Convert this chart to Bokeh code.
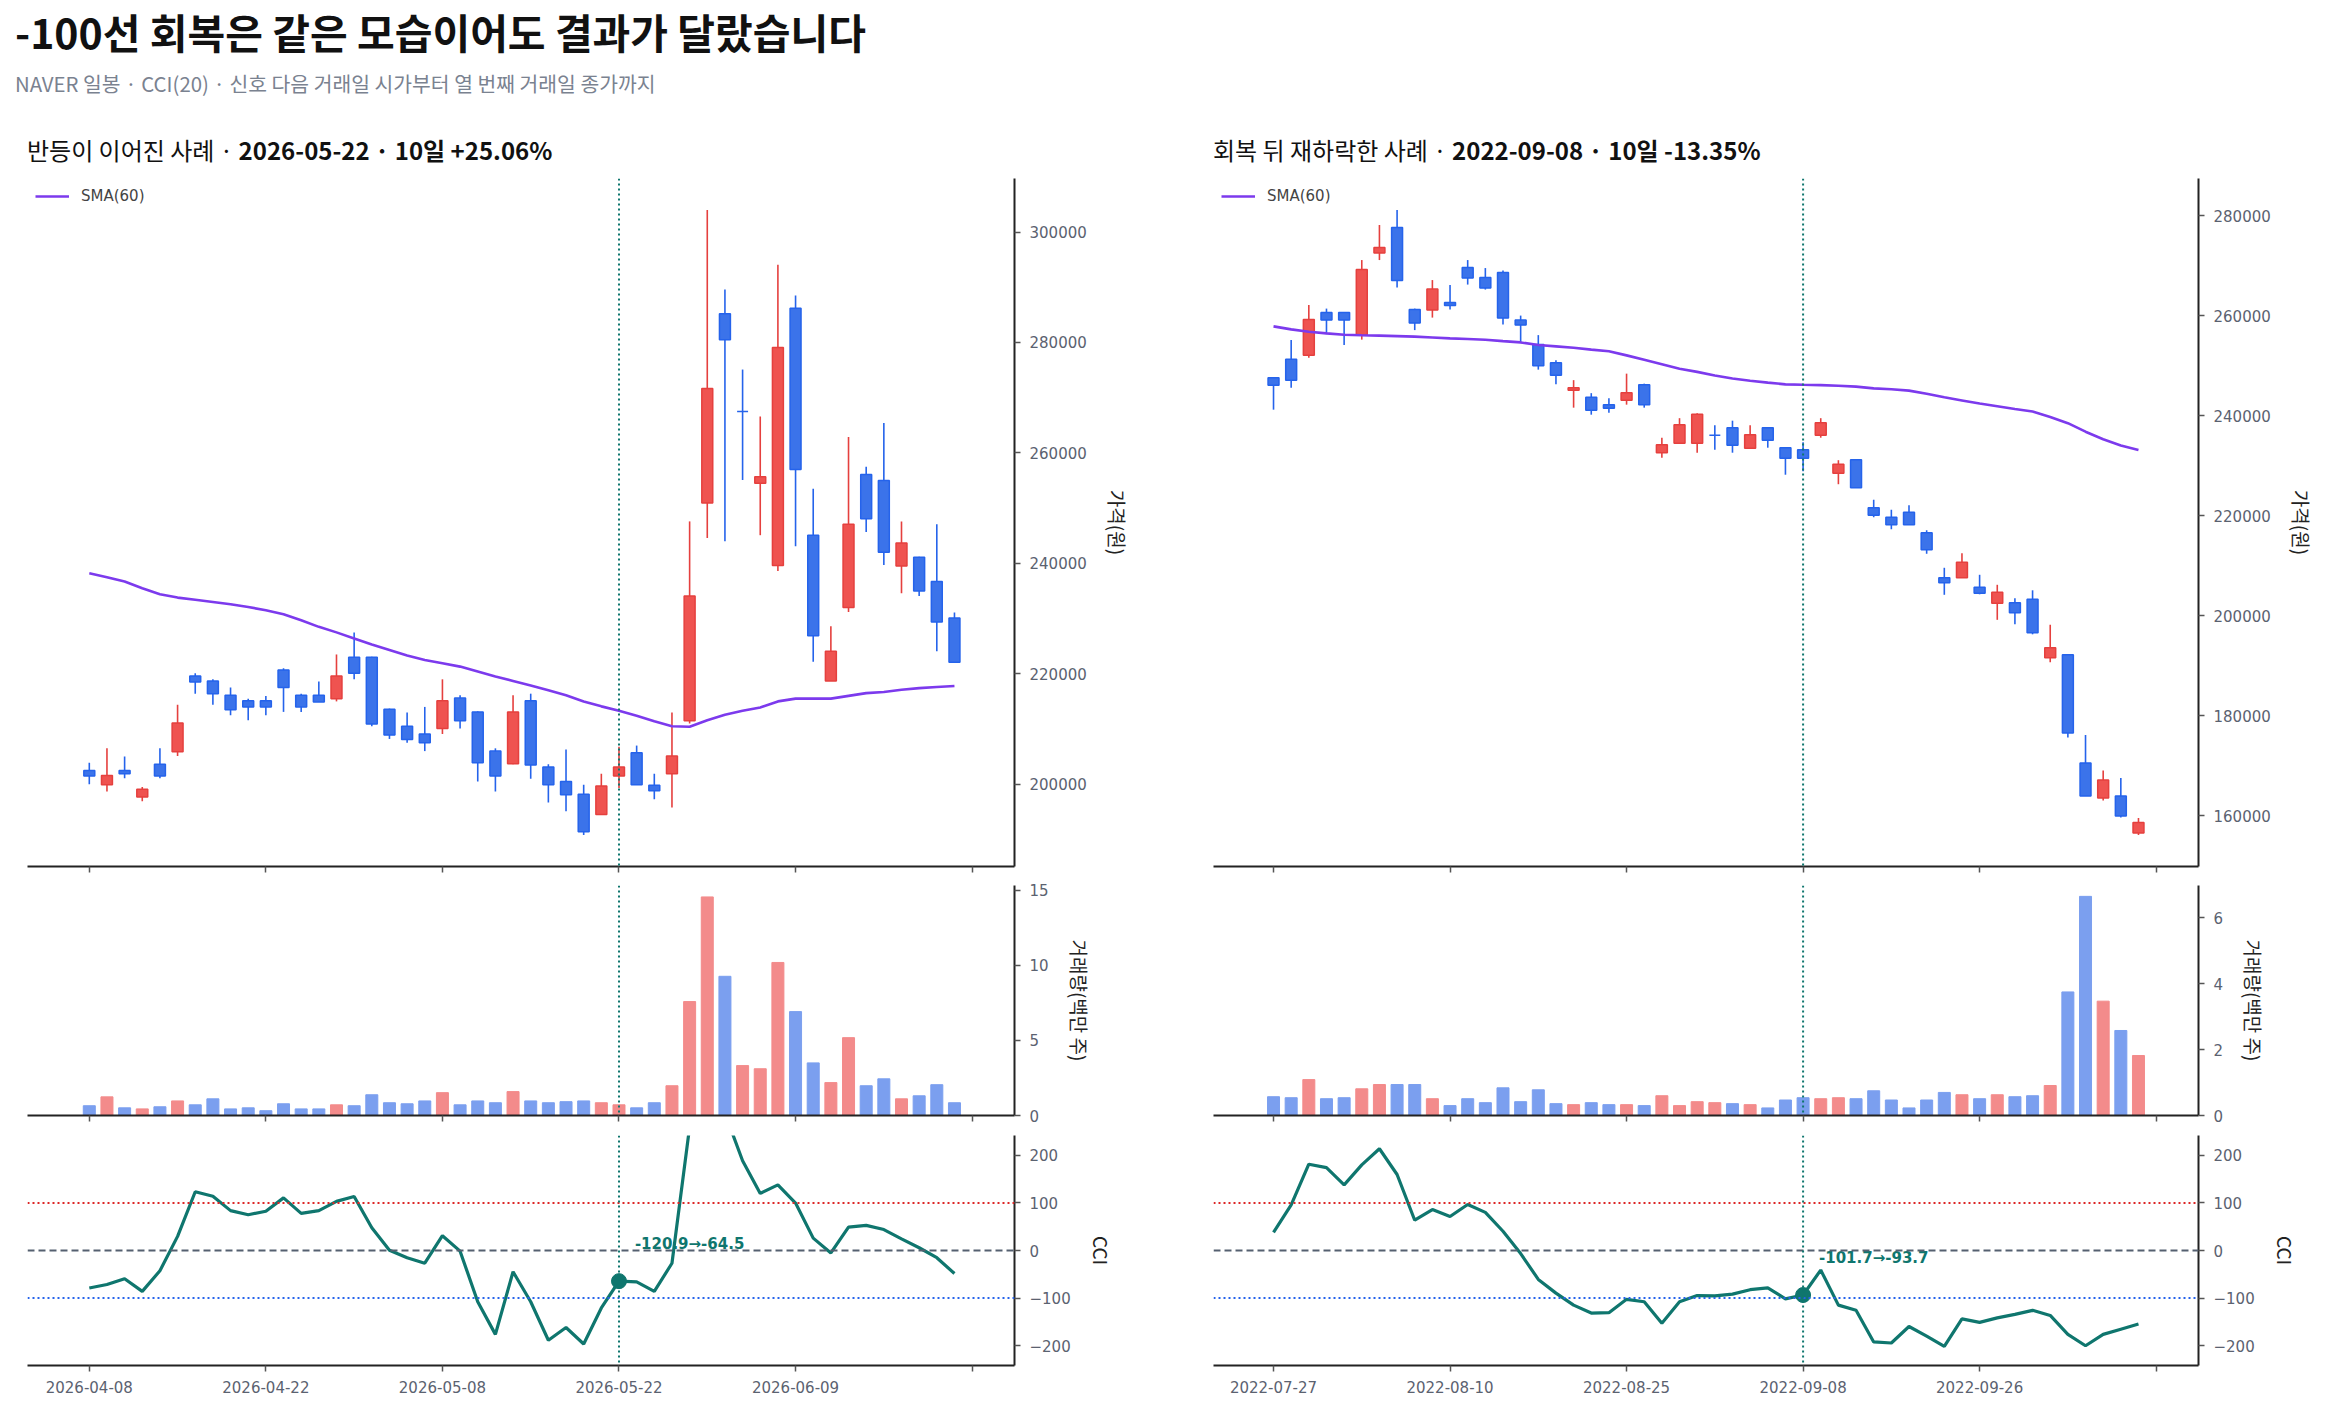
from bokeh.plotting import figure
from bokeh.models import Range1d, FixedTicker, Span, Div, NumeralTickFormatter
from bokeh.core.properties import value
from bokeh.layouts import column, row
from bokeh.embed import file_html
from bokeh.resources import INLINE

FONT = "Noto Sans CJK KR"
TICK_FONT = "DejaVu Sans"

# ---- case 1: rebound continued (NAVER, signal 2026-05-22)
up_ticks = ["2026-04-08", "2026-04-22", "2026-05-08", "2026-05-22", "2026-06-09", ""]
up_open = [202500, 199900, 202500, 197700, 203600, 205900, 219600, 218700, 216100, 215100,
           215100, 220700, 216100, 216100, 215500, 223000, 223000, 213600, 210500, 209100,
           210100, 215600, 213100, 206000, 203700, 215100, 203100, 200500, 198200, 194500,
           201500, 205700, 199800, 201900, 211500, 250950, 285200, 267500, 254500, 239600,
           286200, 245100, 218700, 232000, 256100, 255000, 239500, 241100, 236700, 230100]
up_high = [203900, 206500, 205000, 199500, 206500, 214400, 220100, 219000, 217500, 215500,
           216000, 221000, 216400, 218600, 223500, 227500, 223100, 213700, 213000, 214000,
           219000, 216100, 213200, 206500, 216100, 216400, 203600, 206300, 199900, 201900,
           206800, 207000, 201900, 213000, 247600, 304000, 289600, 275100, 266600, 294100,
           288500, 253500, 228600, 262900, 257500, 265400, 247600, 241200, 247100, 231100]
up_low = [200000, 198700, 201100, 196900, 201100, 205100, 216400, 214400, 212500, 211600,
          212500, 213100, 213100, 214900, 215000, 219000, 210500, 208200, 207500, 206000,
          209100, 210100, 200500, 198700, 203600, 201000, 196700, 195100, 190800, 194500,
          199300, 199900, 197300, 195800, 211000, 244600, 244000, 255100, 245100, 238600,
          243100, 222200, 218700, 231200, 245700, 239700, 234600, 234100, 224100, 222100]
up_close = [201500, 201600, 201900, 199100, 201500, 211100, 218500, 216400, 213500, 214000,
            214000, 217500, 214000, 214900, 219600, 220100, 210900, 208900, 208100, 207500,
            215100, 211500, 203900, 201500, 213100, 203500, 199900, 198100, 191400, 199700,
            203100, 199900, 198800, 205100, 234100, 271650, 280500, 267500, 255700, 279100,
            257000, 226900, 224100, 247100, 248100, 242000, 243700, 235000, 229400, 222100]
up_sma = [238200, 237500, 236700, 235500, 234400, 233800, 233400, 233000, 232600, 232100,
          231500, 230800, 229700, 228500, 227500, 226400, 225300, 224300, 223300, 222500,
          221900, 221300, 220400, 219500, 218700, 217900, 217000, 216100, 215000, 214100,
          213300, 212400, 211400, 210500, 210400, 211600, 212600, 213300, 213900, 215000,
          215500, 215500, 215500, 216000, 216500, 216700, 217100, 217400, 217600, 217800]
up_volume = [0.65, 1.24, 0.51, 0.44, 0.58, 0.97, 0.71, 1.11, 0.44, 0.51,
             0.32, 0.78, 0.44, 0.44, 0.71, 0.65, 1.38, 0.85, 0.78, 0.97,
             1.52, 0.71, 0.97, 0.85, 1.59, 0.97, 0.85, 0.92, 0.97, 0.85,
             0.71, 0.51, 0.85, 1.98, 7.58, 14.54, 9.26, 3.32, 3.11, 10.18,
             6.91, 3.50, 2.19, 5.18, 1.98, 2.44, 1.11, 1.31, 2.05, 0.85]
up_cci = [-78.8, -71.6, -59.3, -86.1, -42.7, 29.7, 123.7, 114.3, 83.9, 75.2,
          82.5, 110.7, 78.1, 83.9, 103.4, 113.6, 47.7, 0.7, -15.2, -26.8,
          31.1, -1.4, -107.8, -176.5, -44.8, -107.8, -188.8, -162.0, -196.7, -120.9,
          -64.5, -66.0, -86.1, -26.8, 260.0, 330.0, 289.0, 188.8, 120.1, 138.2,
          99.8, 26.0, -5.1, 49.2, 52.8, 44.1, 24.6, 5.8, -15.2, -48.5]

# ---- case 2: recovered then fell again (NAVER, signal 2022-09-08)
down_ticks = ["2022-07-27", "2022-08-10", "2022-08-25", "2022-09-08", "2022-09-26", ""]
down_open = [247600, 251300, 252100, 260600, 260600, 256100, 272500, 277600, 261200, 261100,
             262600, 269600, 267600, 268600, 259100, 254200, 250600, 245100, 243700, 242200,
             243100, 246200, 232600, 234500, 234500, 236100, 237600, 233500, 237600, 233600,
             233200, 236100, 228500, 231200, 221600, 219700, 220700, 216600, 207600, 207600,
             205700, 202500, 202600, 203300, 191600, 192200, 170600, 163600, 164000, 156600]
down_high = [247600, 255100, 262100, 261400, 260600, 271100, 278100, 281100, 261400, 267100,
             266100, 271100, 269500, 269000, 260000, 256100, 251100, 247100, 244500, 243500,
             248400, 246400, 235600, 239500, 240500, 238100, 239000, 238100, 237600, 233600,
             234700, 239500, 231100, 231200, 223200, 221200, 222100, 217100, 209600, 212500,
             208200, 206200, 203500, 205100, 198200, 192200, 176200, 169100, 167600, 159600]
down_low = [241200, 245600, 251600, 256300, 254100, 255200, 271100, 265600, 257100, 259600,
            261200, 266200, 265200, 258200, 254700, 249200, 246300, 241600, 240200, 240600,
            242200, 241600, 231600, 234500, 232600, 233200, 232600, 233500, 233600, 228200,
            228900, 235600, 226300, 225600, 219700, 217300, 218200, 212400, 204200, 207600,
            204300, 199200, 198300, 196300, 190700, 175700, 164000, 163100, 159700, 156200]
down_close = [246100, 247100, 259200, 259100, 259100, 269200, 273600, 267000, 258500, 265300,
              262000, 267500, 265500, 259500, 258100, 250000, 248100, 245600, 241100, 241500,
              244600, 242200, 234200, 238200, 240300, 236100, 234100, 236200, 235100, 231500,
              231500, 238600, 230300, 225600, 220100, 218200, 218200, 213200, 206600, 210700,
              204500, 204700, 200600, 196600, 193600, 176600, 164000, 167200, 160000, 158700]
down_sma = [257850, 257250, 256780, 256450, 256160, 256070, 256000, 255900, 255800, 255620,
            255440, 255310, 255180, 254900, 254640, 254110, 253850, 253570, 253200, 252860,
            252050, 251160, 250270, 249380, 248750, 248040, 247420, 246970, 246610, 246260,
            246170, 246100, 245990, 245810, 245450, 245280, 245010, 244380, 243670, 243050,
            242420, 241890, 241350, 240820, 239750, 238500, 236800, 235280, 234040, 233140]
down_volume = [0.57, 0.54, 1.09, 0.51, 0.54, 0.81, 0.94, 0.94, 0.94, 0.51,
               0.30, 0.51, 0.39, 0.84, 0.42, 0.78, 0.36, 0.33, 0.39, 0.33,
               0.33, 0.30, 0.60, 0.30, 0.42, 0.39, 0.36, 0.33, 0.23, 0.47,
               0.54, 0.51, 0.54, 0.51, 0.75, 0.47, 0.23, 0.47, 0.70, 0.63,
               0.51, 0.63, 0.57, 0.60, 0.91, 3.75, 6.65, 3.47, 2.58, 1.82]
down_cci = [38.3, 96.2, 181.6, 174.3, 138.2, 180.1, 214.1, 159.9, 63.7, 86.1,
            71.6, 96.9, 80.3, 40.5, -6.5, -60.8, -89.7, -115.0, -131.6, -130.9,
            -102.7, -107.8, -153.3, -107.8, -94.8, -95.5, -91.9, -82.5, -78.8, -101.7,
            -93.7, -41.2, -115.0, -125.9, -192.4, -194.6, -159.9, -180.1, -201.8, -143.9,
            -151.2, -141.8, -134.5, -125.9, -136.7, -176.5, -200.4, -176.5, -165.6, -154.8]

SIGNAL = 30

RED, RED_EDGE = "#ef5350", "#e5403e"
BLUE, BLUE_EDGE = "#3b73ea", "#2563eb"
VOL_RED, VOL_BLUE = "#f38b8b", "#7b9fef"
TEAL = "#0f766e"
TICK_COLOR = "#5b6270"


def style_axes(p, show_x_labels):
    p.toolbar_location = None
    p.outline_line_color = None
    p.grid.grid_line_color = None
    for ax in p.xaxis + p.yaxis:
        ax.axis_line_color = "#222222"
        ax.axis_line_width = 2
        ax.major_tick_line_color = "#555555"
        ax.major_tick_line_width = 1.5
        ax.major_tick_out = 6
        ax.major_tick_in = 0
        ax.minor_tick_line_color = None
        ax.major_label_text_font = TICK_FONT
        ax.major_label_text_font_size = "15px"
        ax.major_label_text_color = TICK_COLOR
        ax.major_label_standoff = 9
        ax.axis_label_text_font = FONT
        ax.axis_label_text_font_size = "19px"
        ax.axis_label_text_font_style = "normal"
        ax.axis_label_text_color = "#222222"
        ax.axis_label_standoff = 14
    if not show_x_labels:
        p.xaxis.major_label_text_color = None
        p.xaxis.major_label_text_font_size = "1px"
        p.xaxis.major_label_standoff = 0


def signal_line(p):
    p.add_layout(Span(location=SIGNAL, dimension="height", line_color=TEAL,
                      line_dash="2 3", line_width=2))


def case_column(opens, highs, lows, closes, sma, volume, cci, ticks,
                yrange, yticks, vrange, vticks, xr, left_b, right_b, width, title_html):
    idx = list(range(len(opens)))
    xr = Range1d(*xr)
    xt = FixedTicker(ticks=[0, 10, 20, 30, 40, 50])
    overrides = {i * 10: t for i, t in enumerate(ticks)}

    # price
    p = figure(width=width, height=708, x_range=xr, y_range=Range1d(*yrange),
               y_axis_location="right", output_backend="svg", toolbar_location=None,
               min_border_left=left_b, min_border_right=right_b,
               min_border_top=8, min_border_bottom=12, margin=0)
    up = [c > o for o, c in zip(opens, closes)]
    body_col = [RED if u else BLUE for u in up]
    edge_col = [RED_EDGE if u else BLUE_EDGE for u in up]
    p.segment(idx, highs, idx, lows, color=edge_col, line_width=1.6)
    p.vbar(x=idx, width=0.62, top=[max(o, c) for o, c in zip(opens, closes)],
           bottom=[min(o, c) for o, c in zip(opens, closes)],
           fill_color=body_col, line_color=edge_col, line_width=1.5)
    p.line(idx, sma, color="#7c3aed", line_width=2.6, legend_label="SMA(60)")
    signal_line(p)
    p.legend.location = "top_left"
    p.legend.border_line_color = None
    p.legend.background_fill_alpha = 0
    p.legend.label_text_font = TICK_FONT
    p.legend.label_text_font_size = "15px"
    p.legend.glyph_width = 34
    p.legend.label_standoff = 12
    p.legend.margin = 8
    p.legend.padding = 8
    p.yaxis.ticker = FixedTicker(ticks=yticks)
    p.yaxis.formatter = NumeralTickFormatter(format="0")
    p.yaxis.axis_label = "가격(원)"
    p.xaxis.ticker = xt
    style_axes(p, False)

    # volume
    v = figure(width=width, height=249, x_range=xr, y_range=Range1d(*vrange),
               y_axis_location="right", output_backend="svg", toolbar_location=None,
               min_border_left=left_b, min_border_right=right_b,
               min_border_top=7, min_border_bottom=12, margin=0)
    vol_up = [c >= o for o, c in zip(opens, closes)]
    v.vbar(x=idx, width=0.68, top=volume, bottom=0,
           color=[VOL_RED if u else VOL_BLUE for u in vol_up])
    signal_line(v)
    v.yaxis.ticker = FixedTicker(ticks=vticks)
    v.yaxis.axis_label = "거래량(백만 주)"
    v.xaxis.ticker = xt
    style_axes(v, False)

    # CCI
    c = figure(width=width, height=273, x_range=xr, y_range=Range1d(-242, 242),
               y_axis_location="right", output_backend="svg", toolbar_location=None,
               min_border_left=left_b, min_border_right=right_b,
               min_border_top=8, min_border_bottom=35, margin=0)
    c.add_layout(Span(location=100, dimension="width", line_color="#dc2626",
                      line_dash="2 3", line_width=2))
    c.add_layout(Span(location=0, dimension="width", line_color="#556070",
                      line_dash="7 4", line_width=2))
    c.add_layout(Span(location=-100, dimension="width", line_color="#2563eb",
                      line_dash="2 3", line_width=2))
    signal_line(c)
    c.line(idx, cci, color=TEAL, line_width=3.2)
    c.scatter([SIGNAL], [cci[SIGNAL]], size=15, color=TEAL)
    c.text([SIGNAL + 0.9], [cci[SIGNAL] + 78],
           text=[f"{cci[SIGNAL - 1]:.1f}→{cci[SIGNAL]:.1f}"],
           text_color=TEAL, text_font=value(TICK_FONT), text_font_size="15px",
           text_font_style="bold", text_baseline="middle", text_align="left")
    c.yaxis.ticker = FixedTicker(ticks=[-200, -100, 0, 100, 200])
    c.yaxis.axis_label = "CCI"
    c.xaxis.ticker = xt
    c.xaxis.major_label_overrides = overrides
    style_axes(c, True)

    head = Div(text=(f'<div style="font-family:\'{FONT}\';font-size:24px;color:#111;'
                     f'line-height:30px;padding-top:32px;padding-left:{left_b}px;'
                     f'white-space:nowrap">{title_html}</div>'),
               width=width, height=67, margin=0)
    return column(head, p, v, c, spacing=0)


left = case_column(up_open, up_high, up_low, up_close, up_sma, up_volume, up_cci, up_ticks,
                   (185100, 309700), [200000, 220000, 240000, 260000, 280000, 300000],
                   (0, 15.3), [0, 5, 10, 15], (-3.5, 52.4), 27, 189, 1203,
                   '반등이 이어진 사례 · <b>2026-05-22 · 10일 +25.06%</b>')
right = case_column(down_open, down_high, down_low, down_close, down_sma, down_volume,
                    down_cci, down_ticks,
                    (149900, 287400), [160000, 180000, 200000, 220000, 240000, 260000, 280000],
                    (0, 6.98), [0, 2, 4, 6], (-3.4, 52.4), 10, 122, 1117,
                    '회복 뒤 재하락한 사례 · <b>2022-09-08 · 10일 -13.35%</b>')

title = Div(text=(f'<div style="font-family:\'{FONT}\';font-size:41px;font-weight:bold;'
                  f'color:#111;line-height:63px;padding-left:15px;white-space:nowrap">'
                  f'-100선 회복은 같은 모습이어도 결과가 달랐습니다</div>'),
            width=1600, height=63, margin=0)
subtitle = Div(text=(f'<div style="font-family:\'{FONT}\';font-size:20.4px;color:#7a8290;'
                     f'line-height:40px;padding-left:15px;white-space:nowrap">'
                     f'NAVER 일봉 · CCI(20) · 신호 다음 거래일 시가부터 열 번째 거래일 종가까지</div>'),
               width=1600, height=40, margin=0)

page = column(title, subtitle, row(left, right, spacing=0), spacing=0)

open("out.html", "w").write(file_html(page, INLINE))
